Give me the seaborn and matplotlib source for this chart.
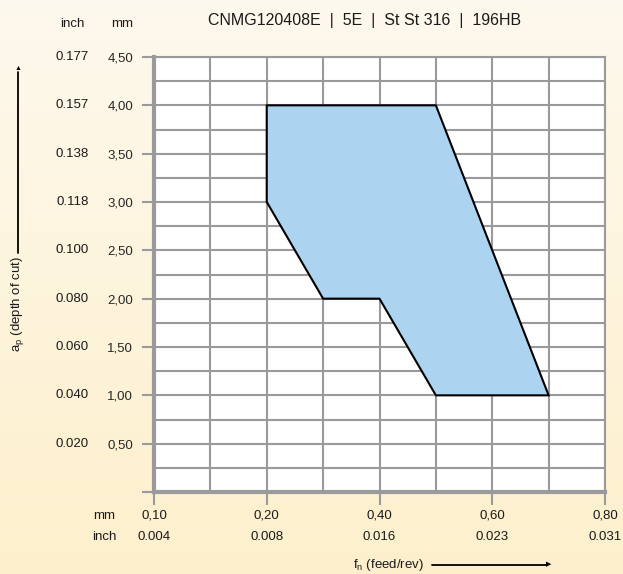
import numpy as np
import seaborn as sns
import matplotlib.pyplot as plt
import matplotlib.transforms as mtransforms

# chart data
feed_mm = [0.20, 0.50, 0.70, 0.50, 0.40, 0.30, 0.20]
depth_mm = [4.00, 4.00, 1.00, 1.00, 2.00, 2.00, 3.00]

x_ticks_mm = [0.10, 0.20, 0.40, 0.60, 0.80]
x_labels_mm = ['0,10', '0,20', '0,40', '0,60', '0,80']
x_labels_inch = ['0.004', '0.008', '0.016', '0.023', '0.031']

y_ticks_mm = [0.5, 1.0, 1.5, 2.0, 2.5, 3.0, 3.5, 4.0, 4.5]
y_labels_mm = ['0,50', '1,00', '1,50', '2,00', '2,50', '3,00', '3,50', '4,00', '4,50']
y_labels_inch = ['0.020', '0.040', '0.060', '0.080', '0.100', '0.118', '0.138', '0.157', '0.177']

title = 'CNMG120408E  |  5E  |  St St 316  |  196HB'

sns.set_style('white')
plt.rcParams['font.family'] = ['Liberation Sans', 'DejaVu Sans']

# the feed axis is not linear: ticks are evenly spaced
tick_pos = np.arange(len(x_ticks_mm))
def feed_to_pos(v):
    return np.interp(v, x_ticks_mm, tick_pos)

fig = plt.figure(figsize=(6.23, 5.74), dpi=100)

# cream -> pale yellow background
bg = fig.add_axes([0, 0, 1, 1], zorder=-10)
grad = np.linspace(0, 1, 256).reshape(-1, 1)
top = np.array([0.995, 0.975, 0.93])
bot = np.array([0.995, 0.94, 0.80])
img = top + (bot - top) * grad[..., None]
bg.imshow(img, aspect='auto', extent=[0, 1, 0, 1])
bg.axis('off')

W, H = 623, 574
ax = fig.add_axes([154 / W, (H - 492) / H, (605 - 154) / W, (492 - 57) / H])
ax.set_facecolor('white')

px = feed_to_pos(feed_mm)
ax.fill(px, depth_mm, facecolor='#acd3f0', edgecolor='black', linewidth=1.5, zorder=3)

ax.set_xlim(0, 4)
ax.set_ylim(0, 4.5)

grid_c = '#9a9a9c'
ax.set_xticks(tick_pos)
ax.set_xticklabels([])
ax.set_yticks([0] + y_ticks_mm)
ax.set_yticklabels([''] + y_labels_mm, fontsize=9.5)
ax.set_xticks(np.arange(0.5, 4, 1.0), minor=True)
ax.set_yticks(np.arange(0.25, 4.5, 0.5), minor=True)
ax.grid(which='both', color=grid_c, linewidth=1.5, zorder=1)
ax.set_axisbelow(True)

ax.tick_params(axis='both', which='major', direction='out', length=9, width=1.5,
               color=grid_c, pad=6, left=True, bottom=True)
ax.tick_params(axis='both', which='minor', length=0)

for side in ['top', 'right']:
    ax.spines[side].set_color(grid_c)
    ax.spines[side].set_linewidth(1.5)
for side in ['left', 'bottom']:
    ax.spines[side].set_color(grid_c)
    ax.spines[side].set_linewidth(3)

lbl = dict(fontsize=9.5, color='#1a1a1a')

# inch labels on y
ty = mtransforms.blended_transform_factory(fig.transFigure, ax.transData)
for v, s in zip(y_ticks_mm, y_labels_inch):
    fig.text(89 / W, v, s, transform=ty, ha='right', va='center', **lbl)

# x labels, two rows
tx = mtransforms.blended_transform_factory(ax.transData, fig.transFigure)
for p, m, i in zip(tick_pos, x_labels_mm, x_labels_inch):
    fig.text(p, 1 - 516 / H, m, transform=tx, ha='center', va='center', **lbl)
    fig.text(p, 1 - 537 / H, i, transform=tx, ha='center', va='center', **lbl)

fig.text(104 / W, 1 - 516 / H, 'mm', ha='center', va='center', **lbl)
fig.text(104 / W, 1 - 537 / H, 'inch', ha='center', va='center', **lbl)
fig.text(72 / W, 1 - 24 / H, 'inch', ha='center', va='center', **lbl)
fig.text(122 / W, 1 - 24 / H, 'mm', ha='center', va='center', **lbl)

fig.text(365 / W, 1 - 21 / H, title, ha='center', va='center', fontsize=11.5, color='#1a1a1a')

# axis names with arrows
fig.text(18 / W, 1 - 304 / H, r'a$_\mathregular{p}$ (depth of cut)', rotation=90,
         ha='center', va='center', **lbl)
fig.add_artist(plt.Line2D([18 / W, 18 / W], [1 - 253 / H, 1 - 72 / H], color='black', lw=1.3))
fig.text(18 / W, 1 - 68 / H, '▲', ha='center', va='center', fontsize=5, color='black')

fig.text(388 / W, 1 - 565 / H, r'f$_\mathregular{n}$ (feed/rev)', ha='center', va='center', **lbl)
fig.add_artist(plt.Line2D([432 / W, 546 / W], [1 - 565 / H, 1 - 565 / H], color='black', lw=1.3))
fig.text(549 / W, 1 - 565 / H, '▶', ha='center', va='center', fontsize=5, color='black')

fig.savefig('out.png', dpi=100)
